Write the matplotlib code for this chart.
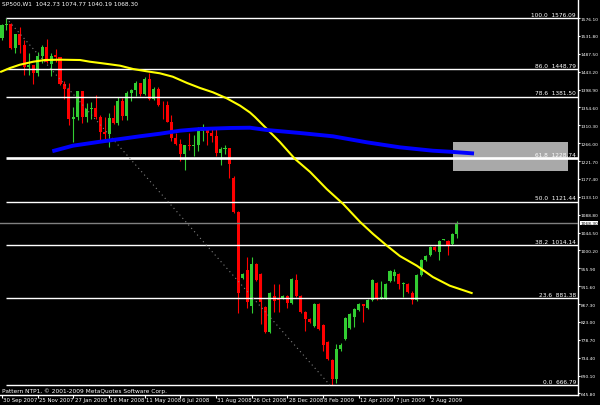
import numpy as np
import matplotlib.pyplot as plt
from matplotlib.patches import Rectangle
from matplotlib.transforms import blended_transform_factory

plt.rcParams['font.family'] = ['Liberation Sans Narrow', 'DejaVu Sans']

# weekly candles, bar 0 = week of 30 Sep 2007
opens = [1527.3, 1557.6, 1561.8, 1500.6, 1535.3, 1509.7, 1453.7, 1458.7, 1440.7, 1481.1,
         1504.7, 1462.0, 1484.5, 1478.5, 1411.6, 1401.0, 1325.2, 1330.6, 1395.4, 1331.3,
         1350.0, 1353.1, 1330.6, 1293.4, 1288.1, 1329.5, 1315.2, 1370.4, 1332.8, 1390.3,
         1397.8, 1413.9, 1388.3, 1425.4, 1375.9, 1400.4, 1360.7, 1360.0, 1317.9, 1278.4,
         1262.9, 1239.5, 1260.7, 1257.8, 1260.3, 1296.3, 1298.2, 1292.2, 1282.8, 1242.3,
         1251.7, 1255.1, 1180.0, 1095.0, 932.0, 951.7, 862.5, 966.6, 941.8, 860.0,
         798.0, 887.0, 882.0, 881.0, 887.0, 870.0, 927.0, 887.0, 847.0, 830.0,
         813.0, 867.0, 815.0, 773.0, 728.0, 681.7, 756.0, 781.0, 808.0, 835.0,
         852.0, 867.0, 857.0, 877.0, 920.0, 882.0, 881.0, 924.0, 938.0, 942.0,
         917.0, 917.0, 895.0, 877.0, 939.0, 976.0, 989.0, 1009.0, 996.0, 1026.0,
         1023.0, 1016.0, 1040.0]
highs = [1561.0, 1576.1, 1564.7, 1535.9, 1552.8, 1520.7, 1489.0, 1460.0, 1492.0, 1509.0,
         1523.6, 1489.0, 1498.9, 1479.0, 1420.0, 1415.0, 1355.0, 1396.0, 1396.0, 1365.0,
         1367.9, 1385.0, 1336.0, 1330.0, 1341.4, 1359.7, 1380.9, 1378.2, 1395.9, 1399.0,
         1420.0, 1415.4, 1429.0, 1440.2, 1406.3, 1404.0, 1370.0, 1371.0, 1335.0, 1290.7,
         1276.0, 1262.3, 1291.2, 1286.0, 1305.3, 1313.2, 1300.5, 1301.0, 1304.4, 1257.5,
         1262.0, 1255.1, 1185.0, 1098.0, 944.0, 983.9, 983.9, 970.0, 945.0, 862.0,
         896.0, 917.0, 917.0, 889.0, 889.0, 931.0, 942.0, 889.0, 849.0, 832.0,
         870.0, 870.0, 817.0, 775.0, 730.0, 768.0, 770.0, 835.0, 845.0, 857.0,
         869.0, 868.0, 879.0, 929.0, 922.0, 924.0, 919.0, 951.0, 954.0, 944.0,
         922.0, 919.0, 899.0, 941.0, 978.0, 988.0, 1012.0, 1012.0, 1026.0, 1029.0,
         1025.0, 1043.0, 1072.0]
lows = [1522.0, 1546.7, 1500.4, 1489.0, 1489.0, 1435.0, 1435.0, 1412.6, 1432.0, 1464.6,
        1463.6, 1432.0, 1467.6, 1411.2, 1375.0, 1311.0, 1270.0, 1322.8, 1316.8, 1318.0,
        1324.8, 1326.6, 1272.7, 1271.0, 1257.0, 1312.8, 1312.0, 1324.4, 1324.3, 1370.4,
        1383.0, 1382.4, 1386.5, 1374.1, 1373.1, 1359.0, 1326.0, 1317.5, 1272.0, 1260.7,
        1221.7, 1200.4, 1248.0, 1234.4, 1247.5, 1271.0, 1261.0, 1268.0, 1233.0, 1212.5,
        1238.0, 1179.8, 1093.0, 845.0, 930.0, 857.5, 845.2, 925.0, 817.9, 796.0,
        796.0, 848.0, 848.0, 879.0, 857.0, 868.0, 885.0, 845.0, 800.0, 820.0,
        811.0, 803.0, 751.0, 729.0, 667.0, 672.0, 750.0, 778.0, 805.0, 810.0,
        850.0, 823.0, 855.0, 875.0, 878.0, 880.0, 879.0, 922.0, 924.0, 905.0,
        885.0, 895.0, 867.0, 875.0, 937.0, 974.0, 987.0, 999.0, 976.0, 1025.0,
        989.0, 1014.0, 1030.0]
closes = [1557.6, 1561.8, 1500.6, 1535.3, 1509.7, 1453.7, 1458.7, 1440.7, 1481.1, 1504.7,
          1468.0, 1482.0, 1478.5, 1411.6, 1401.0, 1325.2, 1330.6, 1395.4, 1331.3, 1350.0,
          1353.1, 1330.6, 1293.4, 1288.1, 1329.5, 1315.2, 1370.4, 1332.8, 1390.3, 1397.8,
          1413.9, 1388.3, 1425.4, 1375.9, 1400.4, 1360.7, 1360.0, 1317.9, 1278.4, 1262.9,
          1239.5, 1260.7, 1257.8, 1260.3, 1296.3, 1298.2, 1292.2, 1282.8, 1242.3, 1251.7,
          1255.1, 1213.3, 1095.0, 895.0, 942.0, 872.4, 966.6, 927.0, 872.4, 798.0,
          894.0, 875.0, 878.0, 887.0, 870.0, 929.0, 887.0, 847.0, 830.0, 823.0,
          867.0, 805.0, 766.0, 731.0, 681.7, 756.0, 766.0, 833.0, 843.0, 855.0,
          867.0, 862.0, 877.0, 927.0, 880.0, 884.0, 917.0, 949.0, 948.0, 917.0,
          920.0, 897.0, 877.0, 939.0, 976.0, 986.0, 1009.0, 1001.0, 1023.0, 1028.0,
          1014.0, 1041.0, 1068.3]

# moving averages (bar index, price)
ma_slow_x = [-0.2, 1.8, 4.0, 7.0, 9.6, 13.0, 17.5, 19.7, 22.0, 24.2, 26.5, 29.4, 32.5, 35.4,
             38.3, 41.5, 44.4, 47.3, 50.4, 53.4, 55.6, 56.7, 59.4, 62.3, 65.7, 69.1, 72.8,
             76.5, 80.3, 83.2, 86.3, 89.2, 93.0, 96.6, 100.4, 105.3]
ma_slow_y = [1443.1, 1452.2, 1460.4, 1467.8, 1472.0, 1472.8, 1472.0, 1467.8, 1464.6, 1461.4,
             1457.9, 1449.7, 1444.0, 1439.1, 1430.6, 1415.1, 1402.7, 1392.0, 1377.1, 1358.8,
             1342.0, 1331.0, 1301.1, 1268.9, 1226.8, 1194.5, 1152.4, 1115.3, 1070.7, 1041.0,
             1012.0, 986.4, 962.4, 934.4, 912.8, 894.7]
ma_long_x = [11.7, 15.9, 22.0, 26.5, 30.9, 35.4, 39.9, 44.4, 51.1, 55.6, 59.4, 66.8, 74.2,
             81.8, 89.2, 96.6, 100.4, 105.4]
ma_long_y = [1247.3, 1259.7, 1269.6, 1276.3, 1283.0, 1289.4, 1296.9, 1301.1, 1303.6, 1304.3,
             1298.6, 1291.2, 1283.0, 1268.1, 1255.7, 1247.3, 1244.8, 1240.8]

# fibonacci retracement
fib_high = 1576.09
fib_low = 666.79
fib_levels = [0.0, 23.6, 38.2, 50.0, 61.8, 78.6, 86.0, 100.0]

price_ticks = [1576.10, 1531.80, 1487.50, 1443.20, 1398.90, 1354.60, 1310.30, 1266.00,
               1221.70, 1177.40, 1133.10, 1088.80, 1044.50, 1000.20, 955.90, 911.60,
               867.30, 823.00, 778.70, 734.40, 690.10, 645.80]
date_bars = [0, 8, 16, 24, 32, 40, 48, 56, 64, 72, 80, 88, 96]
date_labels = ["30 Sep 2007", "25 Nov 2007", "27 Jan 2008", "16 Mar 2008", "11 May 2008",
               "6 Jul 2008", "31 Aug 2008", "26 Oct 2008", "28 Dec 2008", "8 Feb 2009",
               "12 Apr 2009", "7 Jun 2009", "2 Aug 2009"]
last_price = 1068.30

fs = 4.2
fs_axis = 3.2

fig = plt.figure(figsize=(6, 4.06), dpi=100, facecolor='black')
ax = fig.add_axes([0, 10 / 406, 578 / 600, 396 / 406])
ax.set_facecolor('black')
ax.set_xlim(-0.45, 129.15)
ax.set_ylim(642.0, 1623.2)

o = np.array(opens); h = np.array(highs); l = np.array(lows); c = np.array(closes)
x = np.arange(len(o))
up = c >= o
cols = np.where(up, '#32CD32', '#FF0000')
ax.vlines(x, l, h, colors=cols, linewidth=0.8, zorder=2)
body = np.maximum(np.abs(c - o), 1.5)
ax.bar(x, body, bottom=np.minimum(o, c), width=0.68, color=cols, linewidth=0, zorder=2)

# zone box
ax.add_patch(Rectangle((101.1, 1197.0), 25.8, 71.9, facecolor='#A9A9A9',
                       edgecolor='none', zorder=2.5))

# fib lines and labels
xr = blended_transform_factory(ax.transAxes, ax.transData)
for lv in fib_levels:
    p = fib_low + lv / 100 * (fib_high - fib_low)
    ax.hlines(p, 0.9, 129.15, colors='white', linewidth=1.9 if lv == 61.8 else 1.0, zorder=3)
    ax.text(0.9965, p + 3, "%.1f  %.2f" % (lv, p), transform=xr, ha='right', va='bottom',
            color='white', fontsize=fs, zorder=5)

ax.plot([0.9, 73.5], [fib_high, fib_low], color='#808080', linewidth=0.8,
        linestyle=(0, (1, 3)), zorder=3)
ax.axhline(last_price, color='#808080', linewidth=1.0, zorder=3)

ax.plot(ma_slow_x, ma_slow_y, color='#FFFF00', linewidth=1.5, zorder=4)
ax.plot(ma_long_x, ma_long_y, color='#0000FF', linewidth=2.8, zorder=4)

# axes styling
for s in ['top', 'left']:
    ax.spines[s].set_visible(False)
for s in ['right', 'bottom']:
    ax.spines[s].set_color('white')
    ax.spines[s].set_linewidth(1.0)
ax.yaxis.tick_right()
ax.set_yticks(price_ticks)
ax.set_yticklabels(["%.2f" % t for t in price_ticks])
ax.tick_params(axis='y', colors='white', length=1.5, labelsize=fs_axis, pad=0.5)
ax.set_xticks(date_bars)
ax.set_xticklabels([])
ax.tick_params(axis='x', colors='white', length=2)
xb = blended_transform_factory(ax.transData, ax.transAxes)
for b, s in zip(date_bars, date_labels):
    ax.text(b + 0.3, -0.006, s, transform=xb, ha='left', va='top', color='white',
            fontsize=3.9)

ax.text(1.0035, last_price, "%.2f" % last_price, transform=xr, ha='left', va='center',
        color='black', fontsize=fs_axis, zorder=6,
        bbox=dict(boxstyle='square,pad=0.08', facecolor='white', edgecolor='none'))

fig.text(2 / 600, 1 - 2 / 406, "SP500,W1  1042.73 1074.77 1040.19 1068.30", ha='left',
         va='top', color='white', fontsize=fs)
ax.text(2 / 578, 0.019, "Pattern NTP1, \u00a9 2001-2009 MetaQuotes Software Corp.",
        transform=ax.transAxes, ha='left', va='top', color='white', fontsize=fs)

fig.savefig('out.png', dpi=100, facecolor='black')
